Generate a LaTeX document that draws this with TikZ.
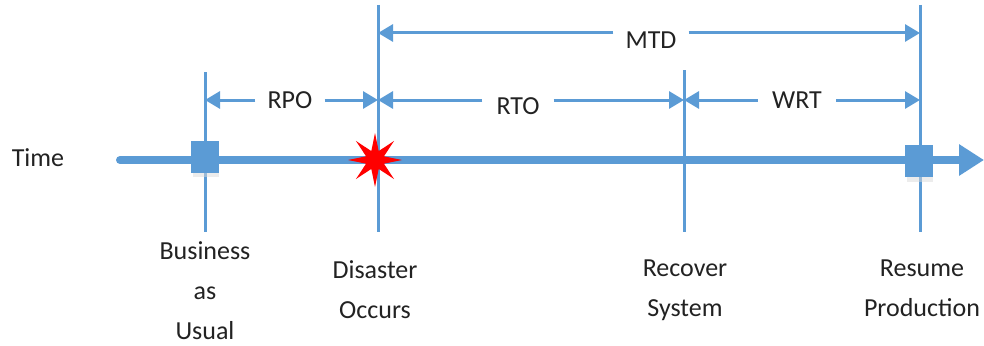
\documentclass[tikz,border=0pt]{standalone}
\usepackage{fontspec}
\setmainfont{Carlito}
\usetikzlibrary{arrows.meta,shapes.geometric}
\definecolor{tblue}{HTML}{5B9BD5}
\definecolor{txt}{HTML}{222222}
\tikzset{
  vline/.style={draw=tblue,line width=3pt},
  dim/.style={draw=tblue,line width=3pt,-{Triangle[length=15pt,width=17pt]}},
  dlabel/.style={font=\fontsize{26}{30}\selectfont,text=txt,inner sep=0pt},
  blabel/.style={font=\fontsize{26}{40}\selectfont,text=txt,align=center,inner sep=0pt},
  marker/.style={fill=tblue,minimum width=28pt,minimum height=32pt,inner sep=0pt},
}
\begin{document}
\begin{tikzpicture}[x=1pt,y=-1pt]
\useasboundingbox (0,0) rectangle (984,345);
% coordinates on vertical lines
\coordinate (bTop) at (205,72);  \coordinate (bBot) at (205,232);
\coordinate (dTop) at (378,5);   \coordinate (dBot) at (378,232);
\coordinate (rTop) at (684,70);  \coordinate (rBot) at (684,232);
\coordinate (pTop) at (920,5);   \coordinate (pBot) at (920,232);
\coordinate (bMid) at (205,100); \coordinate (dMid) at (378,100);
\coordinate (rMid) at (684,100); \coordinate (pMid) at (920,100);
\coordinate (dHi) at (378,33);   \coordinate (pHi) at (920,33);
\coordinate (tStart) at (120,160); \coordinate (tEnd) at (984,160);
% vertical lines
\draw[vline] (bTop) -- (bBot);
\draw[vline] (dTop) -- (dBot);
\draw[vline] (rTop) -- (rBot);
\draw[vline] (pTop) -- (pBot);
% timeline
\draw[draw=tblue,line width=8pt,line cap=round,-{Triangle[length=25pt,width=30pt,line cap=butt]}] (tStart) -- (tEnd);
% markers
\fill[black!15,opacity=0.5] (193,145) rectangle (219,177);
\node[marker] (bau) at (205,157) {};
\fill[black!15,opacity=0.5] (907,149) rectangle (933,182);
\node[marker] (res) at (919,161) {};
\node[star,star points=8,star point ratio=2.8,minimum size=54pt,fill=red,inner sep=0pt] (dis) at (375,160) {};
% dimension labels
\node[dlabel,inner xsep=12pt] (rpo) at (290,100) {RPO};
\node[dlabel,inner xsep=14pt] (rto) at (518,106) {RTO};
\node[dlabel,inner xsep=14pt] (wrt) at (797,100) {WRT};
\node[dlabel,inner xsep=12pt] (mtd) at (651,40) {MTD};
\draw[dim] (rpo.west |- bMid) -- (bMid);
\draw[dim] (rpo.east |- bMid) -- (dMid);
\draw[dim] (rto.west |- dMid) -- (dMid);
\draw[dim] (rto.east |- dMid) -- (rMid);
\draw[dim] (wrt.west |- rMid) -- (rMid);
\draw[dim] (wrt.east |- rMid) -- (pMid);
\draw[dim] (mtd.west |- dHi) -- (dHi);
\draw[dim] (mtd.east |- dHi) -- (pHi);
% texts
\node[dlabel] (time) at (38,158) {Time};
\node[blabel,anchor=north] (tb) at (205,241) {Business\\as\\Usual};
\node[blabel,anchor=north] (td) at (375,260) {Disaster\\Occurs};
\node[blabel,anchor=north] (tr) at (685,260) {Recover\\System};
\node[blabel,anchor=north] (tp) at (922,260) {Resume\\Production};
\end{tikzpicture}
\end{document}
